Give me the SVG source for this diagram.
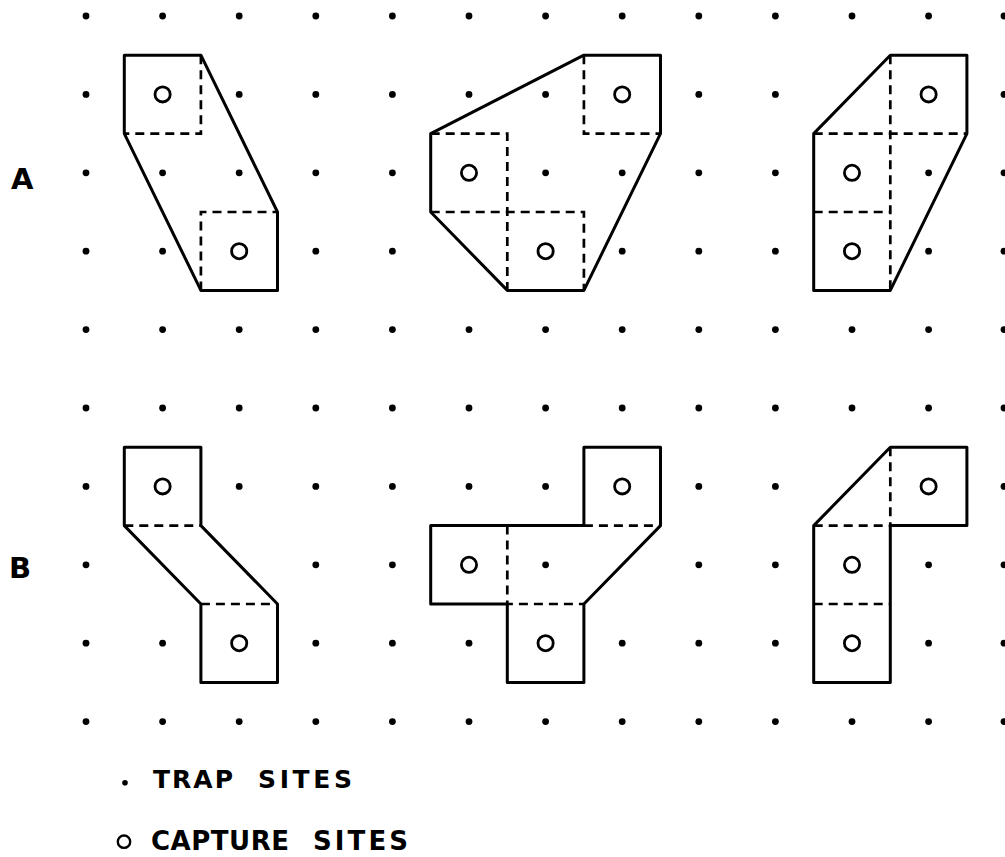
<svg xmlns="http://www.w3.org/2000/svg" width="1005" height="857" viewBox="0 0 1005 857">
<style>
.bg{fill:#fff}
.trap{fill:#000}
.cap{fill:none;stroke:#000;stroke-width:2.8}
.outline{fill:none;stroke:#000;stroke-width:3;stroke-linejoin:round}
.dash{fill:none;stroke:#000;stroke-width:2.7;stroke-dasharray:9 6}
.lbl{font-family:"DejaVu Sans","Liberation Sans",Arial,sans-serif;font-weight:bold;fill:#000}
</style>
<defs>
<circle id="d" r="3.4" class="trap"/>
<circle id="c" r="7.6" class="cap"/>
</defs>
<rect class="bg" x="0" y="0" width="1005" height="857"/>
<g id="trap-sites">
<g transform="translate(0,16)"><use href="#d" x="86"/><use href="#d" x="162.6"/><use href="#d" x="239.2"/><use href="#d" x="315.8"/><use href="#d" x="392.4"/><use href="#d" x="469"/><use href="#d" x="545.6"/><use href="#d" x="622.2"/><use href="#d" x="698.8"/><use href="#d" x="775.4"/><use href="#d" x="852"/><use href="#d" x="928.6"/><use href="#d" x="1004"/></g>
<g transform="translate(0,94.4)"><use href="#d" x="86"/><use href="#d" x="239.2"/><use href="#d" x="315.8"/><use href="#d" x="392.4"/><use href="#d" x="469"/><use href="#d" x="545.6"/><use href="#d" x="698.8"/><use href="#d" x="775.4"/><use href="#d" x="1004"/></g>
<g transform="translate(0,172.8)"><use href="#d" x="86"/><use href="#d" x="162.6"/><use href="#d" x="239.2"/><use href="#d" x="315.8"/><use href="#d" x="392.4"/><use href="#d" x="545.6"/><use href="#d" x="622.2"/><use href="#d" x="698.8"/><use href="#d" x="775.4"/><use href="#d" x="928.6"/><use href="#d" x="1004"/></g>
<g transform="translate(0,251.2)"><use href="#d" x="86"/><use href="#d" x="162.6"/><use href="#d" x="315.8"/><use href="#d" x="392.4"/><use href="#d" x="622.2"/><use href="#d" x="698.8"/><use href="#d" x="775.4"/><use href="#d" x="928.6"/><use href="#d" x="1004"/></g>
<g transform="translate(0,329.6)"><use href="#d" x="86"/><use href="#d" x="162.6"/><use href="#d" x="239.2"/><use href="#d" x="315.8"/><use href="#d" x="392.4"/><use href="#d" x="469"/><use href="#d" x="545.6"/><use href="#d" x="622.2"/><use href="#d" x="698.8"/><use href="#d" x="775.4"/><use href="#d" x="852"/><use href="#d" x="928.6"/><use href="#d" x="1004"/></g>
<g transform="translate(0,408)"><use href="#d" x="86"/><use href="#d" x="162.6"/><use href="#d" x="239.2"/><use href="#d" x="315.8"/><use href="#d" x="392.4"/><use href="#d" x="469"/><use href="#d" x="545.6"/><use href="#d" x="622.2"/><use href="#d" x="698.8"/><use href="#d" x="775.4"/><use href="#d" x="852"/><use href="#d" x="928.6"/><use href="#d" x="1004"/></g>
<g transform="translate(0,486.4)"><use href="#d" x="86"/><use href="#d" x="239.2"/><use href="#d" x="315.8"/><use href="#d" x="392.4"/><use href="#d" x="469"/><use href="#d" x="545.6"/><use href="#d" x="698.8"/><use href="#d" x="775.4"/><use href="#d" x="1004"/></g>
<g transform="translate(0,564.8)"><use href="#d" x="86"/><use href="#d" x="315.8"/><use href="#d" x="392.4"/><use href="#d" x="545.6"/><use href="#d" x="698.8"/><use href="#d" x="775.4"/><use href="#d" x="928.6"/><use href="#d" x="1004"/></g>
<g transform="translate(0,643.2)"><use href="#d" x="86"/><use href="#d" x="162.6"/><use href="#d" x="315.8"/><use href="#d" x="392.4"/><use href="#d" x="469"/><use href="#d" x="622.2"/><use href="#d" x="698.8"/><use href="#d" x="775.4"/><use href="#d" x="928.6"/><use href="#d" x="1004"/></g>
<g transform="translate(0,721.6)"><use href="#d" x="86"/><use href="#d" x="162.6"/><use href="#d" x="239.2"/><use href="#d" x="315.8"/><use href="#d" x="392.4"/><use href="#d" x="469"/><use href="#d" x="545.6"/><use href="#d" x="622.2"/><use href="#d" x="698.8"/><use href="#d" x="775.4"/><use href="#d" x="852"/><use href="#d" x="928.6"/><use href="#d" x="1004"/></g>
</g>
<g id="connectors"></g>
<g id="shape-A1">
<path class="outline" d="M124.3,55.2 H200.9 L277.5,212 V290.4 H200.9 L124.3,133.6 Z"/>
<path class="dash" d="M200.9,55.2 V133.6 H124.3 M200.9,290.4 V212 H277.5"/>
<use href="#c" x="162.6" y="94.4"/><use href="#c" x="239.2" y="251.2"/>
</g>
<g id="shape-A2">
<path class="outline" d="M430.7,133.6 L583.9,55.2 H660.5 V133.6 L583.9,290.4 H507.3 L430.7,212 Z"/>
<path class="dash" d="M583.9,55.2 V133.6 H660.5 M430.7,133.6 H507.3 V290.4 M430.7,212 H583.9 V290.4"/>
<use href="#c" x="622.2" y="94.4"/><use href="#c" x="469" y="172.8"/><use href="#c" x="545.6" y="251.2"/>
</g>
<g id="shape-A3">
<path class="outline" d="M813.7,133.6 L890.3,55.2 H966.9 V133.6 L890.3,290.4 H813.7 Z"/>
<path class="dash" d="M890.3,55.2 V290.4 M813.7,133.6 H966.9 M813.7,212 H890.3"/>
<use href="#c" x="928.6" y="94.4"/><use href="#c" x="852" y="172.8"/><use href="#c" x="852" y="251.2"/>
</g>
<g id="shape-B1">
<path class="outline" d="M124.3,525.6 V447.2 H200.9 V525.6 L277.5,604 V682.4 H200.9 V604 Z"/>
<path class="dash" d="M124.3,525.6 H200.9 M200.9,604 H277.5"/>
<use href="#c" x="162.6" y="486.4"/><use href="#c" x="239.2" y="643.2"/>
</g>
<g id="shape-B2">
<path class="outline" d="M430.7,525.6 H583.9 V447.2 H660.5 V525.6 L583.9,604 V682.4 H507.3 V604 H430.7 Z"/>
<path class="dash" d="M583.9,525.6 H660.5 M507.3,525.6 V604 H583.9"/>
<use href="#c" x="622.2" y="486.4"/><use href="#c" x="469" y="564.8"/><use href="#c" x="545.6" y="643.2"/>
</g>
<g id="shape-B3">
<path class="outline" d="M813.7,525.6 L890.3,447.2 H966.9 V525.6 H890.3 V682.4 H813.7 Z"/>
<path class="dash" d="M890.3,447.2 V525.6 M813.7,525.6 H890.3 M813.7,604 H890.3"/>
<use href="#c" x="928.6" y="486.4"/><use href="#c" x="852" y="564.8"/><use href="#c" x="852" y="643.2"/>
</g>
<g id="row-labels">
<text class="lbl" x="11" y="189" font-size="29">A</text>
<text class="lbl" x="9" y="578" font-size="29">B</text>
</g>
<g id="legend">
<circle cx="125" cy="782.7" r="2.8" class="trap"/>
<text class="lbl" x="153" y="787.5" font-size="25" textLength="80" lengthAdjust="spacing">TRAP</text>
<text class="lbl" x="258" y="787.5" font-size="25" textLength="94" lengthAdjust="spacing">SITES</text>
<circle cx="124" cy="841.7" r="6.2" fill="none" stroke="#000" stroke-width="2.4"/>
<text class="lbl" x="151" y="850" font-size="26" textLength="138" lengthAdjust="spacing">CAPTURE</text>
<text class="lbl" x="313" y="850" font-size="26" textLength="95" lengthAdjust="spacing">SITES</text>
</g>
</svg>
